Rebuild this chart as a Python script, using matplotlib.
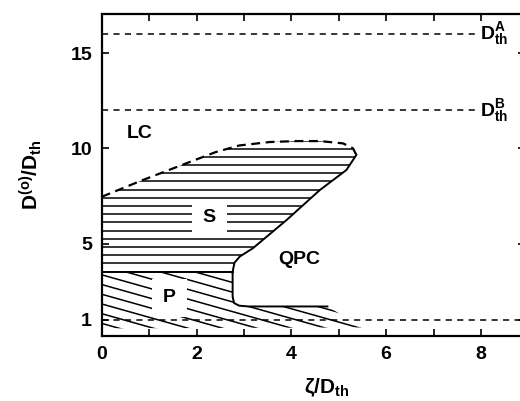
import numpy as np
import matplotlib
matplotlib.use("Agg")
import matplotlib.pyplot as plt
from matplotlib.patches import Polygon

plt.rcParams['font.family'] = ['Liberation Sans', 'DejaVu Sans']
plt.rcParams['font.weight'] = 'bold'
plt.rcParams['mathtext.fontset'] = 'custom'
plt.rcParams['mathtext.rm'] = 'Liberation Sans:bold'
plt.rcParams['mathtext.it'] = 'Liberation Sans:bold'
plt.rcParams['mathtext.bf'] = 'Liberation Sans:bold'
plt.rcParams['mathtext.sf'] = 'Liberation Sans:bold'

# ---- data ----
# upper (dashed) boundary of the S region
s_top_x = [0.0, 0.87, 1.78, 2.4, 2.9, 3.54, 4.1, 4.6, 5.09, 5.3, 5.37]
s_top_y = [7.46, 8.34, 9.21, 9.8, 10.15, 10.33, 10.38, 10.38, 10.26, 10.0, 9.65]
# solid QPC boundary
qpc_x = [5.37, 5.16, 4.6, 3.9, 3.19, 2.91, 2.80, 2.76, 2.76, 2.79, 2.9, 3.1, 4.76]
qpc_y = [9.65, 8.86, 7.81, 6.24, 4.76, 4.32, 4.0, 3.53, 2.22, 1.88, 1.74, 1.70, 1.70]
# S / P boundary
sp_x = [0.0, 2.76]
sp_y = [3.53, 3.53]
# lower/right edge of the P hatched area
p_edge_x = [4.76, 5.5, 0.0]
p_edge_y = [1.70, 0.60, 0.55]
# threshold lines
thr_levels = [16.0, 12.0, 1.0]
thr_labels = ['A', 'B', None]
thr_xmax = [7.95, 7.95, 8.92]

region_labels = ['LC', 'S', 'QPC', 'P']
region_x = [0.80, 2.27, 4.17, 1.43]
region_y = [10.8, 6.35, 4.15, 2.16]

x_ticks = [0, 2, 4, 6, 8]
y_ticks = [1, 5, 10, 15]

# ---- figure ----
fig = plt.figure(figsize=(5.2, 4.01), dpi=100)
ax = fig.add_axes([0.1958, 0.1621, 0.813, 0.803])
ax.set_xlim(0, 8.92)
ax.set_ylim(0.15, 17.05)

for s in ax.spines.values():
    s.set_linewidth(1.6)

# S region polygon
s_poly_x = s_top_x + qpc_x[1:8] + [sp_x[0]]
s_poly_y = s_top_y + qpc_y[1:8] + [sp_y[0]]
s_patch = Polygon(np.column_stack([s_poly_x, s_poly_y]), closed=True,
                  facecolor='none', edgecolor='none')
ax.add_patch(s_patch)
for yy in np.arange(sp_y[0], 10.6, 0.43):
    ln, = ax.plot([0, 6], [yy, yy], color='black', lw=1.1)
    ln.set_clip_path(s_patch)

# P region polygon
p_poly_x = sp_x + qpc_x[8:] + p_edge_x
p_poly_y = sp_y + qpc_y[8:] + p_edge_y
p_patch = Polygon(np.column_stack([p_poly_x, p_poly_y]), closed=True,
                  facecolor='none', edgecolor='none')
ax.add_patch(p_patch)
slope = -0.70
for c in np.arange(0.3, 8.0, 0.51):
    xs = np.array([0, 6])
    ln, = ax.plot(xs, c + slope * xs, color='black', lw=1.1)
    ln.set_clip_path(p_patch)

# boundaries
ax.plot(s_top_x, s_top_y, color='black', lw=1.6, dashes=(4, 2.5))
ax.plot(qpc_x, qpc_y, color='black', lw=1.4)
ax.plot(sp_x, sp_y, color='black', lw=1.4)

# threshold lines
for lev, lab, xm in zip(thr_levels, thr_labels, thr_xmax):
    ax.plot([0, xm], [lev, lev], color='black', lw=1.1, dashes=(4, 3.5))
    if lab is not None:
        ax.text(xm + 0.03, lev, r'$\mathrm{D}_{\mathrm{th}}^{\mathrm{%s}}$' % lab,
                fontsize=14, ha='left', va='center')

# region labels
for lab, xx, yy in zip(region_labels, region_x, region_y):
    bb = None
    if lab in ('S', 'P'):
        bb = dict(facecolor='white', edgecolor='none', boxstyle='square,pad=0.55')
    ax.text(xx, yy, lab, fontsize=14, ha='center', va='center', bbox=bb, zorder=5)

# ticks
ax.set_xticks(x_ticks)
ax.set_xticks([1, 3, 5, 7], minor=True)
ax.set_yticks(y_ticks)
ax.tick_params(which='both', direction='in', top=True, right=True,
               length=5, width=1.2, labelsize=14)
ax.tick_params(axis='x', pad=7)
ax.tick_params(axis='y', pad=7)

ax.set_xlabel(r'$\zeta/\mathrm{D}_{\mathrm{th}}$', fontsize=15)
ax.xaxis.set_label_coords(0.533, -0.125)
ax.xaxis.label.set_va('top')
ax.set_ylabel(r'$\mathrm{D}^{\mathrm{(o)}}/\mathrm{D}_{\mathrm{th}}$', fontsize=15)
ax.yaxis.set_label_coords(-0.137, 0.5)

fig.savefig('out.png', dpi=100)
